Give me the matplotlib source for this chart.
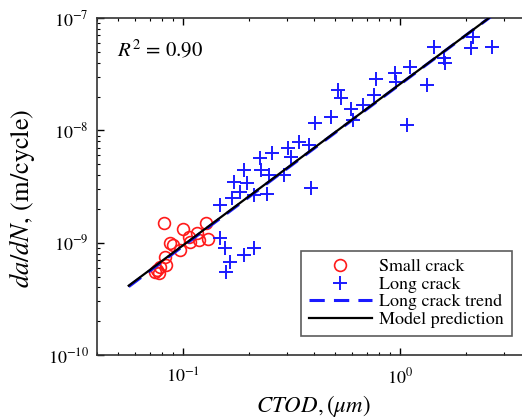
import numpy as np
import matplotlib
matplotlib.use("Agg")
import matplotlib.pyplot as plt
from matplotlib.ticker import NullFormatter

plt.rcParams["font.family"] = ["STIXGeneral", "DejaVu Serif"]
plt.rcParams["mathtext.fontset"] = "stix"

# small crack data (CTOD in um, da/dN in m/cycle)
small_ctod = [0.0817, 0.0997, 0.1276, 0.0871, 0.0897, 0.1062, 0.1156, 0.1077,
              0.1176, 0.1294, 0.0969, 0.0826, 0.0835, 0.0783, 0.0756, 0.0769, 0.0743]
small_dadn = [1.51e-9, 1.32e-9, 1.49e-9, 0.99e-9, 0.954e-9, 1.13e-9, 1.21e-9, 1.02e-9,
              1.06e-9, 1.07e-9, 0.861e-9, 0.741e-9, 0.633e-9, 0.604e-9, 0.571e-9, 0.534e-9, 0.552e-9]

# long crack data
long_ctod = [0.148, 0.1676, 0.1705, 0.1831, 0.1896, 0.1965, 0.2109, 0.2247, 0.228,
             0.243, 0.2471, 0.2563, 0.29, 0.3024, 0.3135, 0.3399, 0.3778, 0.4058,
             0.3889, 0.4794, 0.5142, 0.533, 0.5928, 0.6053, 0.673, 0.7534, 0.775,
             0.9484, 0.9585, 1.074, 1.112, 1.327, 1.424, 1.583, 1.612, 2.118, 2.170,
             2.647, 0.148, 0.1561, 0.1647, 0.1578, 0.1896, 0.2125]
long_dadn = [2.17e-9, 2.48e-9, 3.49e-9, 2.84e-9, 4.44e-9, 3.42e-9, 2.66e-9, 5.64e-9, 4.44e-9,
             2.72e-9, 4.01e-9, 6.33e-9, 4.01e-9, 6.93e-9, 5.83e-9, 7.93e-9, 7.41e-9, 1.157e-8,
             3.05e-9, 1.324e-8, 2.29e-8, 1.93e-8, 1.541e-8, 1.238e-8, 1.683e-8, 2.07e-8, 2.85e-8,
             3.22e-8, 2.71e-8, 1.117e-8, 3.69e-8, 2.54e-8, 5.56e-8, 4.39e-8, 3.96e-8, 5.38e-8, 6.72e-8,
             5.53e-8, 1.094e-9, 0.891e-9, 0.677e-9, 0.552e-9, 0.777e-9, 0.891e-9]

# power-law fits: da/dN = C * CTOD^m
trend_C, trend_m = 2.58e-8, 1.44
model_C, model_m = 2.60e-8, 1.436
line_ctod = [0.056, 3.0]
r_squared = 0.90

fig = plt.figure(figsize=(5.22, 4.18), dpi=100)
ax = fig.add_axes([0.1858, 0.1507, 0.8716, 0.806])

ax.plot(small_ctod, small_dadn, "o", mfc="none", mec="#ff1a1a", ms=8.5, mew=1.2,
        label="Small crack", zorder=3)
ax.plot(long_ctod, long_dadn, "+", color="#1a1aff", ms=10, mew=1.4,
        label="Long crack", zorder=3)
x = np.array(line_ctod)
ax.plot(x, trend_C * x ** trend_m, "--", color="#1a1aff", lw=2.2, dashes=(5, 3),
        label="Long crack trend", zorder=4)
ax.plot(x, model_C * x ** model_m, "-", color="black", lw=1.6,
        label="Model prediction", zorder=5)

ax.set_xscale("log")
ax.set_yscale("log")
ax.set_xlim(0.04, 5)
ax.set_ylim(1e-10, 1e-7)
ax.xaxis.set_minor_formatter(NullFormatter())
ax.yaxis.set_minor_formatter(NullFormatter())

ax.tick_params(which="both", direction="in", top=True, right=True, labelsize=13)
ax.tick_params(which="major", length=5, width=1)
ax.tick_params(which="minor", length=2.5, width=0.8)
ax.tick_params(axis="x", pad=9)
ax.tick_params(axis="y", pad=6)
for s in ax.spines.values():
    s.set_linewidth(1.2)
    s.set_color("#333333")

ax.set_xlabel(r"$CTOD, (\mu m)$", fontsize=16.5)
ax.set_ylabel(r"$da/dN$, (m/cycle)", fontsize=19)
ax.xaxis.set_label_coords(0.475, -0.112)
ax.yaxis.set_label_coords(-0.132, 0.464)

ax.text(0.045, 0.905, r"$R^2$ = %.2f" % r_squared, transform=ax.transAxes,
        fontsize=15, va="center", ha="left")

leg = ax.legend(loc="lower right", bbox_to_anchor=(0.912, 0.056), fontsize=13,
                frameon=True, fancybox=False, edgecolor="#333333",
                handlelength=3.5, labelspacing=0.05, borderpad=0.45,
                handletextpad=0.4, borderaxespad=0)
leg.get_frame().set_linewidth(1.2)

fig.savefig("out.png", dpi=100)
